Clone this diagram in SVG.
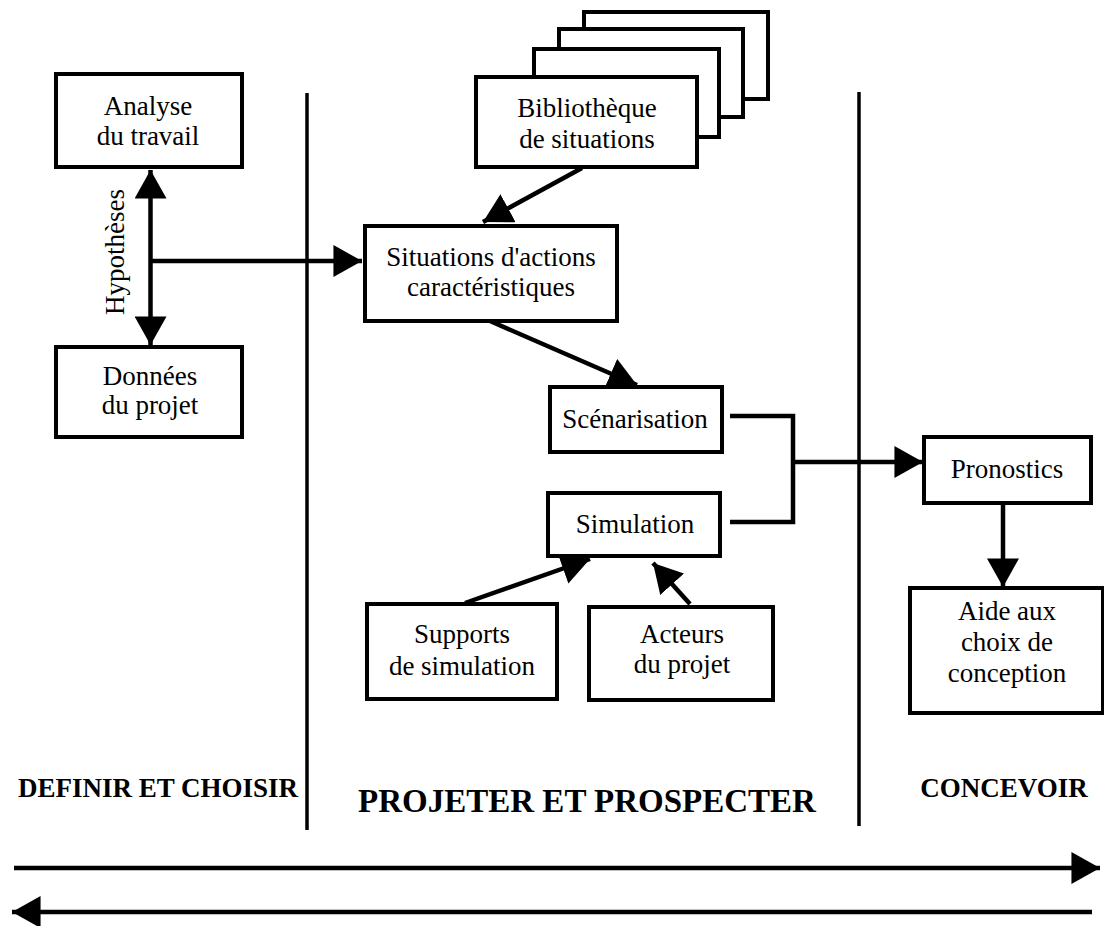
<svg xmlns="http://www.w3.org/2000/svg" width="1104" height="926" viewBox="0 0 1104 926">
<style>
.box{fill:#fff;stroke:#000;stroke-width:4}
.t{font-family:"Liberation Serif","Times New Roman",serif;font-size:27px;fill:#000;text-anchor:middle}
.h{font-family:"Liberation Serif","Times New Roman",serif;font-weight:bold;fill:#000;text-anchor:middle}
.ln{fill:none;stroke:#000;stroke-width:4.5}
.div{fill:none;stroke:#000;stroke-width:3.5}
</style>
<defs>
<marker id="ah" markerUnits="userSpaceOnUse" markerWidth="30" markerHeight="32" refX="25" refY="14" orient="auto-start-reverse" viewBox="0 0 26 28">
<path d="M0,0 L25,14 L0,28 Z" fill="#000"/>
</marker>
</defs>
<rect width="1104" height="926" fill="#fff"/>

<g id="dividers">
<line class="div" x1="307" y1="93" x2="307" y2="830"/>
<line class="div" x1="859" y1="92" x2="859" y2="826"/>
</g>

<g id="connectors">
<line class="ln" x1="150.5" y1="170" x2="150.5" y2="345" marker-start="url(#ah)" marker-end="url(#ah)"/>
<line class="ln" x1="150.5" y1="261" x2="362" y2="261" marker-end="url(#ah)"/>
<line class="ln" x1="582" y1="168" x2="483" y2="222" marker-end="url(#ah)"/>
<line class="ln" x1="490" y1="321" x2="637" y2="385" marker-end="url(#ah)"/>
<polyline class="ln" points="730,416 793,416 793,522 730,522"/>
<line class="ln" x1="793" y1="462" x2="923" y2="462" marker-end="url(#ah)"/>
<line class="ln" x1="1003" y1="503" x2="1003" y2="587" marker-end="url(#ah)"/>
<line class="ln" x1="465" y1="603" x2="590" y2="559" marker-end="url(#ah)"/>
<line class="ln" x1="690" y1="604" x2="653" y2="563" marker-end="url(#ah)"/>
<line class="ln" x1="14" y1="868" x2="1100" y2="868" marker-end="url(#ah)"/>
<line class="ln" x1="1092" y1="912" x2="12" y2="912" marker-end="url(#ah)"/>
</g>

<g id="analyse">
<rect class="box" x="56" y="74" width="186" height="93"/>
<text class="t" x="148" y="115">Analyse</text>
<text class="t" x="148" y="145">du travail</text>
</g>

<g id="hypotheses">
<text class="t" transform="translate(124,252) rotate(-90)">Hypothèses</text>
</g>

<g id="donnees">
<rect class="box" x="56" y="347" width="186" height="90"/>
<text class="t" x="150" y="385">Données</text>
<text class="t" x="150" y="414">du projet</text>
</g>

<g id="bibliotheque">
<rect class="box" x="584" y="12" width="184" height="87"/>
<rect class="box" x="559" y="29" width="184" height="88"/>
<rect class="box" x="534" y="49" width="185" height="88"/>
<rect class="box" x="476" y="77" width="221" height="90"/>
<text class="t" x="587" y="117">Bibliothèque</text>
<text class="t" x="587" y="148">de situations</text>
</g>

<g id="situations">
<rect class="box" x="365" y="226" width="252" height="95"/>
<text class="t" x="491" y="266">Situations d'actions</text>
<text class="t" x="491" y="296">caractéristiques</text>
</g>

<g id="scenarisation">
<rect class="box" x="550" y="387" width="172" height="65"/>
<text class="t" x="635" y="428">Scénarisation</text>
</g>

<g id="simulation">
<rect class="box" x="548" y="493" width="172" height="63"/>
<text class="t" x="635" y="533">Simulation</text>
</g>

<g id="supports">
<rect class="box" x="367" y="604" width="190" height="95"/>
<text class="t" x="462" y="643">Supports</text>
<text class="t" x="462" y="675">de simulation</text>
</g>

<g id="acteurs">
<rect class="box" x="589" y="607" width="184" height="93"/>
<text class="t" x="682" y="643">Acteurs</text>
<text class="t" x="682" y="673">du projet</text>
</g>

<g id="pronostics">
<rect class="box" x="924" y="437" width="167" height="66"/>
<text class="t" x="1007" y="478">Pronostics</text>
</g>

<g id="aide">
<rect class="box" x="910" y="588" width="193" height="125"/>
<text class="t" x="1007" y="620">Aide aux</text>
<text class="t" x="1007" y="651">choix de</text>
<text class="t" x="1007" y="682">conception</text>
</g>

<g id="phases">
<text class="h" x="158" y="797" font-size="27">DEFINIR ET CHOISIR</text>
<text class="h" x="587" y="812" font-size="33">PROJETER ET PROSPECTER</text>
<text class="h" x="1004" y="797" font-size="27">CONCEVOIR</text>
</g>
</svg>
